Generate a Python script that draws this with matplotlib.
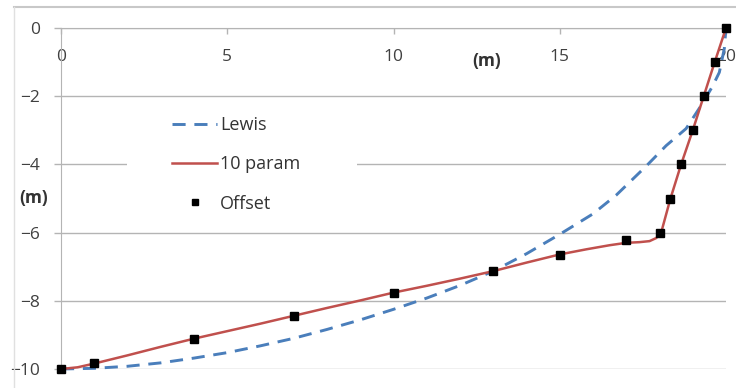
import matplotlib
matplotlib.use("Agg")
import matplotlib.pyplot as plt
from matplotlib.patches import Rectangle
from matplotlib.lines import Line2D

plt.rcParams['font.family'] = ['Open Sans', 'DejaVu Sans']

# Offset points (half-breadth y vs. depth)
offset_x = [0, 1, 4, 7, 10, 13, 15, 17, 18, 18.33, 18.65, 19, 19.33, 19.66, 20]
offset_y = [-10, -9.82, -9.12, -8.45, -7.77, -7.13, -6.65, -6.23, -6.0, -5.0, -4.0, -3.0, -2.0, -1.0, 0]

# 10-parameter fit
param_x = [0, 0.5, 1, 2, 3, 4, 5, 6, 7, 8, 9, 10, 11, 12, 13, 14, 15, 15.8, 16.5,
           17, 17.4, 17.7, 17.9, 18.05, 18.33, 18.65, 19, 19.33, 19.66, 20]
param_y = [-10, -9.95, -9.84, -9.6, -9.35, -9.11, -8.89, -8.67, -8.44, -8.21, -7.99,
           -7.76, -7.56, -7.35, -7.13, -6.88, -6.64, -6.49, -6.37, -6.3, -6.28, -6.25,
           -6.16, -6.0, -5.0, -4.0, -3.0, -2.0, -1.0, 0]

# Lewis form
lewis_x = [0, 1, 2, 3, 4, 5, 6, 7, 8, 9, 10, 11, 12, 13, 14, 15, 16, 16.7, 17.6,
           18.2, 18.8, 19.3, 19.6, 19.8, 19.95, 20]
lewis_y = [-10, -9.98, -9.92, -9.82, -9.68, -9.52, -9.32, -9.1, -8.84, -8.56, -8.25,
           -7.92, -7.55, -7.13, -6.62, -6.05, -5.45, -4.9, -4.05, -3.45, -2.95, -2.2,
           -1.7, -1.3, -0.6, 0]

x_ticks = [0, 5, 10, 15, 20]
y_ticks = [0, -2, -4, -6, -8, -10]

grid_c = '#b4b4b4'
text_c = '#404040'
fs = 12.5

fig = plt.figure(figsize=(7.36, 3.88), dpi=100)
W, H = 736, 388

# chart area border
fig.add_artist(Line2D([14 / W, 1], [1 - 7 / H, 1 - 7 / H], color='#c8c8c8', lw=1.5,
                      transform=fig.transFigure))
fig.add_artist(Line2D([14 / W, 14 / W], [0, 1 - 7 / H], color='#e0e0e0', lw=1.0,
                      transform=fig.transFigure))

ax = fig.add_axes([61 / W, (H - 369) / H, 665 / W, 341 / H])
ax.set_xlim(0, 20)
ax.set_ylim(-10, 0)

ax.set_yticks(y_ticks)
ax.set_xticks(x_ticks)
ax.yaxis.grid(True, color=grid_c, lw=1.0)
ax.set_axisbelow(True)

for s in ['top', 'right']:
    ax.spines[s].set_visible(False)
ax.spines['bottom'].set_position(('data', 0))
ax.spines['bottom'].set_color(grid_c)
ax.spines['left'].set_color(grid_c)
ax.spines['left'].set_bounds(-10, 0)

ax.tick_params(axis='x', direction='out', length=4, width=1, color=grid_c,
               labelsize=fs, labelcolor=text_c, pad=11)
ax.tick_params(axis='y', direction='out', length=5, width=1, color=grid_c,
               labelsize=fs, labelcolor=text_c, pad=10)

ax.plot(lewis_x, lewis_y, color='#4a7ebb', lw=2.1, dashes=(4.5, 3), label='Lewis',
        clip_on=False, zorder=3)
ax.plot(param_x, param_y, color='#c0504d', lw=1.8, label='10 param', clip_on=False, zorder=4)
ax.plot(offset_x, offset_y, ls='none', marker='s', ms=6, color='black', label='Offset',
        clip_on=False, zorder=5)

# keep the legend clear of the -4 gridline
ax.add_patch(Rectangle((66 / 665, 0.555), 230 / 665, 0.06, transform=ax.transAxes,
                       facecolor='white', edgecolor='none', zorder=2))

leg = ax.legend(loc='upper left', bbox_to_anchor=(111 / 665, 1 - 88 / 341),
                frameon=False, fontsize=fs + 0.5, handlelength=2.5, handletextpad=0.15,
                labelspacing=1.18, borderpad=0, borderaxespad=0, markerscale=0.75)
for t in leg.get_texts():
    t.set_color('#333333')

ax.set_xlabel('(m)', fontsize=fs, fontweight='bold', color='#333333')
ax.xaxis.set_label_coords((487 - 61) / 665, (369 - 61) / 341)
ax.xaxis.label.set_va('center')
ax.set_ylabel('(m)', fontsize=fs, fontweight='bold', color='#333333', rotation=0)
ax.yaxis.set_label_coords((34 - 61) / 665, (369 - 198) / 341)
ax.yaxis.label.set_va('center')
ax.yaxis.label.set_ha('center')

fig.savefig('out.png', dpi=100)
